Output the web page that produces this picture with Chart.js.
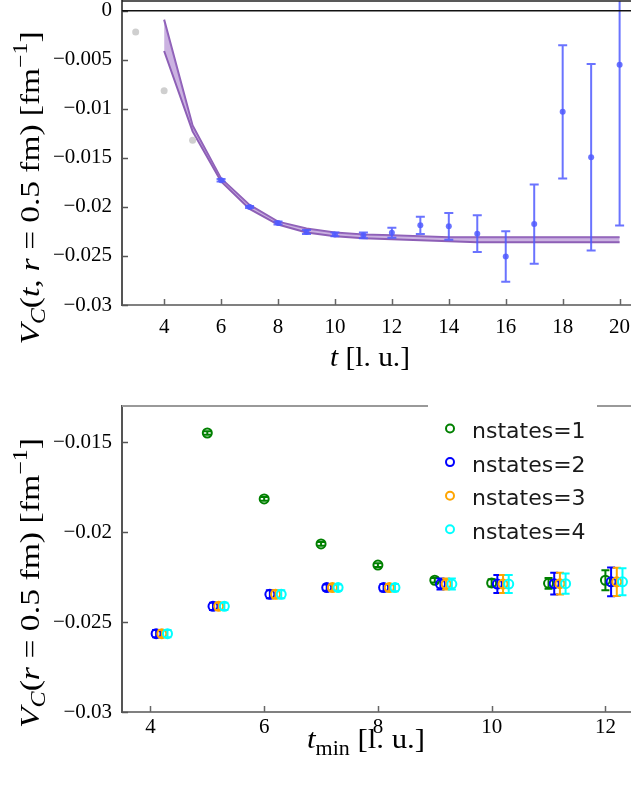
<!DOCTYPE html>
<html>
<head>
<meta charset="utf-8">
<script src="https://cdn.jsdelivr.net/npm/chart.js@4.4.1/dist/chart.umd.min.js"></script>
<style>
  html, body { margin: 0; padding: 0; background: #fff; }
  #wrap { position: relative; width: 631px; height: 785px; }
  canvas { position: absolute; left: 0; }
  #topChart { top: 0; }
  #bottomChart { top: 395px; }
</style>
</head>
<body>
<div id="wrap">
  <canvas id="topChart" width="631" height="395"></canvas>
  <canvas id="bottomChart" width="631" height="390"></canvas>
</div>
<script>
// --- upper panel: effective potential vs t ---
const tData = [6, 7, 8, 9, 10, 11, 12, 13, 14, 15, 16, 17, 18, 19, 20];
const vData = [-0.01728, -0.0200, -0.02164, -0.02256, -0.0228, -0.0229, -0.02263, -0.02188, -0.02198, -0.02273, -0.02505, -0.02175, -0.0103, -0.01493, -0.00549];
const vErr  = [0.00012, 0.0001, 0.00015, 0.0002, 0.0002, 0.0003, 0.0005, 0.00088, 0.00137, 0.00187, 0.00257, 0.00405, 0.0068, 0.0095, 0.0164];
const tExcluded = [3, 4, 5];
const vExcluded = [-0.00215, -0.00815, -0.0132];
const tFit = [4, 5, 6, 7, 8, 9, 10, 11, 12, 13, 14, 15, 16, 17, 18, 19, 20];
const fitUpper = [-0.0009, -0.0117, -0.0171, -0.0198, -0.0215, -0.0222, -0.0226, -0.0228, -0.0229, -0.0230, -0.0231, -0.0231, -0.0231, -0.0231, -0.0231, -0.0231, -0.0231];
const fitLower = [-0.0041, -0.0123, -0.0174, -0.0202, -0.0218, -0.0226, -0.0230, -0.0232, -0.0233, -0.0234, -0.0235, -0.0236, -0.0236, -0.0236, -0.0236, -0.0236, -0.0236];
const topXTicks = [4, 6, 8, 10, 12, 14, 16, 18, 20];
const topYTicks = [0, -0.005, -0.01, -0.015, -0.02, -0.025, -0.03];

// --- lower panel: fit results vs t_min ---
const tMin = [4, 5, 6, 7, 8, 9, 10, 11, 12];
const nstates1 = [null, -0.0145, -0.01816, -0.02066, -0.02184, -0.02268, -0.02283, -0.02285, -0.02268];
const nstates1Err = [null, 0.0001, 0.0001, 0.0001, 0.0001, 0.00012, 0.0002, 0.0003, 0.00056];
const nstates2 = [-0.02565, -0.02413, -0.02346, -0.02309, -0.02309, -0.02289, -0.02289, -0.02287, -0.02277];
const nstates2Err = [0.0002, 0.0002, 0.00022, 0.00018, 0.0002, 0.0003, 0.0005, 0.0006, 0.0008];
const nstates3 = [-0.02565, -0.02413, -0.02346, -0.02309, -0.02309, -0.02289, -0.02289, -0.02287, -0.02277];
const nstates3Err = [0.0002, 0.0002, 0.00022, 0.00018, 0.0002, 0.0003, 0.0005, 0.0006, 0.00078];
const nstates4 = [-0.02565, -0.02413, -0.02346, -0.02309, -0.02309, -0.02289, -0.02289, -0.02287, -0.02277];
const nstates4Err = [0.0002, 0.0002, 0.00022, 0.00018, 0.0002, 0.0003, 0.0005, 0.00056, 0.00075];
const stateShift = [0, 0.1, 0.2, 0.3];
const stateLabels = ['nstates=1', 'nstates=2', 'nstates=3', 'nstates=4'];
const stateColors = ['#008000', '#0000ff', '#ffa500', '#00ffff'];
const bottomXTicks = [4, 6, 8, 10, 12];
const bottomYTicks = [-0.015, -0.02, -0.025, -0.03];

const SERIF = '"Liberation Serif", "DejaVu Serif", serif';

function toPoints(xs, ys, errs, shift) {
  const pts = [];
  xs.forEach((x, i) => {
    if (ys[i] == null) return;
    pts.push({ x: x + (shift || 0), y: ys[i], err: errs ? errs[i] : 0 });
  });
  return pts;
}

function fmtTick(v) {
  if (v === 0) return '0';
  return (v < 0 ? '\u2212' : '') + String(Math.abs(v));
}

// rich text for the axis titles (italic symbols, sub/superscripts),
// stretched along the text direction to the wanted length
function richText(ctx, parts, size, x, y, rotate, target) {
  ctx.save();
  ctx.translate(x, y);
  if (rotate) ctx.rotate(-Math.PI / 2);
  const font = p => (p.i ? 'italic ' : '') + Math.round(size * (p.small ? 0.7 : 1)) + 'px ' + SERIF;
  let total = 0;
  parts.forEach(p => { ctx.font = font(p); p.w = ctx.measureText(p.t).width; total += p.w; });
  if (target) ctx.scale(target / total, 1);
  let cx = -total / 2;
  ctx.fillStyle = '#000';
  ctx.textBaseline = 'alphabetic';
  ctx.textAlign = 'left';
  parts.forEach(p => {
    ctx.font = font(p);
    ctx.fillText(p.t, cx, (p.dy || 0) * size);
    cx += p.w;
  });
  ctx.restore();
}

// error bars, drawn per dataset right after its points
const errorBars = {
  id: 'errorBars',
  afterDatasetDraw(chart, args) {
    const ds = chart.data.datasets[args.index];
    if (!ds.withErrors) return;
    const { ctx, chartArea: a } = chart;
    const ys = chart.scales.y;
    ctx.save();
    ctx.beginPath();
    ctx.rect(a.left, a.top, a.width, a.height);
    ctx.clip();
    ctx.strokeStyle = ds.borderColor;
    ctx.lineWidth = 2;
    args.meta.data.forEach((el, j) => {
      const raw = ds.data[j];
      const y1 = ys.getPixelForValue(raw.y + raw.err);
      const y2 = ys.getPixelForValue(raw.y - raw.err);
      const c = ds.capHalf || 4;
      ctx.beginPath();
      ctx.moveTo(el.x, y1); ctx.lineTo(el.x, y2);
      ctx.moveTo(el.x - c, y1); ctx.lineTo(el.x + c, y1);
      ctx.moveTo(el.x - c, y2); ctx.lineTo(el.x + c, y2);
      ctx.stroke();
    });
    ctx.restore();
  }
};

// inward ticks, top border, zero line, axis titles
const frame = {
  id: 'frame',
  afterDraw(chart, args, o) {
    const { ctx, chartArea: a, scales: { x, y } } = chart;
    ctx.save();
    ctx.lineWidth = 1.5;
    ctx.strokeStyle = o.xTickColor;
    x.ticks.forEach(t => {
      const px = Math.round(x.getPixelForValue(t.value)) + 0.5;
      ctx.beginPath(); ctx.moveTo(px, a.bottom); ctx.lineTo(px, a.bottom - 6); ctx.stroke();
    });
    ctx.strokeStyle = o.yTickColor;
    y.ticks.forEach(t => {
      const py = Math.round(y.getPixelForValue(t.value)) + 0.5;
      ctx.beginPath(); ctx.moveTo(a.left, py); ctx.lineTo(a.left + 6, py); ctx.stroke();
    });
    ctx.strokeStyle = o.topColor;
    ctx.lineWidth = o.topWidth;
    ctx.beginPath(); ctx.moveTo(a.left, a.top); ctx.lineTo(a.right, a.top); ctx.stroke();
    if (o.zeroLine) {
      const py = y.getPixelForValue(0);
      ctx.strokeStyle = '#111';
      ctx.lineWidth = 1.5;
      ctx.beginPath(); ctx.moveTo(a.left, py); ctx.lineTo(a.right, py); ctx.stroke();
    }
    ctx.restore();
    richText(ctx, o.yTitle, o.titleSize, o.yTitlePos[0], o.yTitlePos[1], true, o.yTitleLen);
    richText(ctx, o.xTitle, o.titleSize, o.xTitlePos[0], o.xTitlePos[1], false, o.xTitleLen);
  }
};

// legend box overlapping the top frame of the lower panel
const boxLegend = {
  id: 'boxLegend',
  afterDraw(chart) {
    const ctx = chart.ctx;
    ctx.save();
    ctx.fillStyle = '#fff';
    ctx.fillRect(428, 0, 169, 158);
    stateLabels.forEach((lab, i) => {
      const cy = 33.5 + i * 33.6;
      ctx.beginPath();
      ctx.arc(450, cy, 4, 0, 2 * Math.PI);
      ctx.strokeStyle = stateColors[i];
      ctx.lineWidth = 2;
      ctx.stroke();
      ctx.fillStyle = '#1a1a1a';
      ctx.font = '22px "DejaVu Sans"';
      ctx.textBaseline = 'alphabetic';
      ctx.fillText(lab, 472, cy + 9.5);
    });
    ctx.restore();
  }
};

function axisOptions(min, max, ticks, fixedSize, isX, borderColor, pad) {
  return {
    type: 'linear',
    min: min,
    max: max,
    grid: { display: false, drawTicks: false },
    border: { display: true, color: borderColor, width: 2 },
    afterBuildTicks: s => { s.ticks = ticks.map(v => ({ value: v })); },
    afterFit: s => {
      if (isX) { s.height = fixedSize; s.paddingLeft = 0; s.paddingRight = 0; }
      else { s.width = fixedSize; s.paddingTop = 0; s.paddingBottom = 0; }
    },
    ticks: {
      padding: pad,
      color: '#000',
      font: { family: SERIF, size: 21 },
      callback: v => fmtTick(v)
    }
  };
}

Chart.defaults.animation = false;

new Chart(document.getElementById('topChart'), {
  type: 'scatter',
  data: {
    datasets: [
      {
        data: toPoints(tData, vData, vErr),
        withErrors: true,
        capHalf: 4.5,
        borderColor: 'rgba(80,90,255,0.85)',
        backgroundColor: 'rgba(80,90,255,0.85)',
        pointRadius: 3,
        pointBorderWidth: 0,
        order: 0
      },
      {
        data: toPoints(tExcluded, vExcluded),
        borderColor: '#cfcfcf',
        backgroundColor: '#cfcfcf',
        pointRadius: 3.5,
        pointBorderWidth: 0,
        order: 1
      },
      {
        data: toPoints(tFit, fitUpper),
        showLine: true,
        borderColor: '#8d5fb6',
        borderWidth: 2,
        pointRadius: 0,
        fill: false,
        order: 3
      },
      {
        data: toPoints(tFit, fitLower),
        showLine: true,
        borderColor: '#8d5fb6',
        borderWidth: 2,
        pointRadius: 0,
        fill: '-1',
        backgroundColor: 'rgba(160,115,200,0.55)',
        order: 2
      }
    ]
  },
  options: {
    responsive: false,
    layout: { autoPadding: false, padding: { top: 1, right: 0, left: 0, bottom: 0 } },
    scales: {
      x: axisOptions(2.52, 20.4, topXTicks, 90, true, '#808080', 10),
      y: axisOptions(-0.03, 0.001, topYTicks, 122, false, '#555', 10)
    },
    plugins: {
      legend: { display: false },
      tooltip: { enabled: false },
      frame: {
        xTickColor: '#666', yTickColor: '#555', topColor: '#222', topWidth: 1.5, zeroLine: true,
        titleSize: 28,
        yTitle: [{ t: 'V', i: true }, { t: 'C', i: true, small: true, dy: 0.22 }, { t: '(' }, { t: 't', i: true }, { t: ', ' }, { t: 'r', i: true }, { t: ' = 0.5 fm) [fm' }, { t: '\u22121', small: true, dy: -0.42 }, { t: ']' }],
        yTitlePos: [39, 188],
        yTitleLen: 313,
        xTitle: [{ t: 't', i: true }, { t: ' [l. u.]' }],
        xTitlePos: [370, 366],
        xTitleLen: 80
      }
    }
  },
  plugins: [errorBars, frame]
});

const stateSeries = [
  [nstates1, nstates1Err],
  [nstates2, nstates2Err],
  [nstates3, nstates3Err],
  [nstates4, nstates4Err]
];

new Chart(document.getElementById('bottomChart'), {
  type: 'scatter',
  data: {
    datasets: stateSeries.map((s, i) => ({
      label: stateLabels[i],
      data: toPoints(tMin, s[0], s[1], stateShift[i]),
      withErrors: true,
      capHalf: 4,
      borderColor: stateColors[i],
      backgroundColor: 'rgba(0,0,0,0)',
      pointRadius: 4.5,
      pointBorderWidth: 2,
      order: 4 - i
    }))
  },
  options: {
    responsive: false,
    layout: { autoPadding: false, padding: { top: 11, right: 0, left: 0, bottom: 0 } },
    scales: {
      x: axisOptions(3.5, 12.45, bottomXTicks, 73, true, '#808080', 3),
      y: axisOptions(-0.03, -0.013, bottomYTicks, 122, false, '#555', 10)
    },
    plugins: {
      legend: { display: false },
      tooltip: { enabled: false },
      frame: {
        xTickColor: '#666', yTickColor: '#555', topColor: '#999', topWidth: 2, zeroLine: false,
        titleSize: 28,
        yTitle: [{ t: 'V', i: true }, { t: 'C', i: true, small: true, dy: 0.22 }, { t: '(' }, { t: 'r', i: true }, { t: ' = 0.5 fm) [fm' }, { t: '\u22121', small: true, dy: -0.42 }, { t: ']' }],
        yTitlePos: [39, 188],
        yTitleLen: 290,
        xTitle: [{ t: 't', i: true }, { t: 'min', small: true, dy: 0.25 }, { t: ' [l. u.]' }],
        xTitlePos: [366, 353],
        xTitleLen: 118
      }
    }
  },
  plugins: [errorBars, frame, boxLegend]
});
</script>
</body>
</html>
